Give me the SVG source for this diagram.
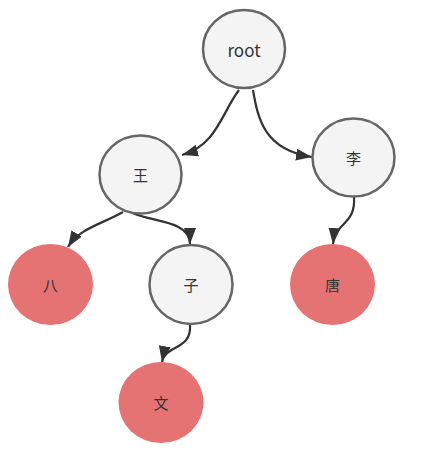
<svg xmlns="http://www.w3.org/2000/svg" width="427" height="464" viewBox="0 0 427 464">
<style>
.n ellipse{fill:#f4f4f4;stroke:#666;stroke-width:2.5}
.r ellipse{fill:#e57373;stroke:none}
text{font-family:"Noto Sans CJK SC","Liberation Sans",sans-serif;font-size:15px;fill:#333;text-anchor:middle;dominant-baseline:central}
.e path{fill:none;stroke:#333;stroke-width:2.2}
</style>
<defs>
<marker id="a" markerUnits="userSpaceOnUse" markerWidth="18" markerHeight="14" refX="16" refY="6" orient="auto">
<path d="M0,0 L16,6 L0,12 z" fill="#333"/>
</marker>
</defs>
<g class="e" id="edges">
<path d="M239,90 C222,112 217,145 182,155" marker-end="url(#a)"/>
<path d="M253,90 C258,120 265,150 312,157" marker-end="url(#a)"/>
<path d="M123,212 C100,225 80,228 68,247" marker-end="url(#a)"/>
<path d="M133,213 C150,222 190,220 190,244" marker-end="url(#a)"/>
<path d="M354,197 C356,225 335,222 333,244" marker-end="url(#a)"/>
<path d="M190,325 C192,350 165,345 162,362" marker-end="url(#a)"/>
</g>
<g id="root" class="n"><ellipse cx="244" cy="49" rx="41" ry="39"/><text x="244" y="49" style="font-size:17px">root</text></g>
<g id="wang" class="n"><ellipse cx="140.5" cy="174.5" rx="41" ry="39"/><text x="140.5" y="174.5">王</text></g>
<g id="li" class="n"><ellipse cx="353.5" cy="157.5" rx="41" ry="39"/><text x="353.5" y="157.5">李</text></g>
<g id="ba" class="r"><ellipse cx="50.5" cy="284.5" rx="42.5" ry="40.5"/><text x="50.5" y="284.5">八</text></g>
<g id="zi" class="n"><ellipse cx="191" cy="284.5" rx="41.5" ry="39.5"/><text x="191" y="284.5">子</text></g>
<g id="tang" class="r"><ellipse cx="332.5" cy="284.5" rx="42.5" ry="40.5"/><text x="332.5" y="284.5">唐</text></g>
<g id="wen" class="r"><ellipse cx="161" cy="402.5" rx="42.5" ry="40.5"/><text x="161" y="402.5">文</text></g>
</svg>
